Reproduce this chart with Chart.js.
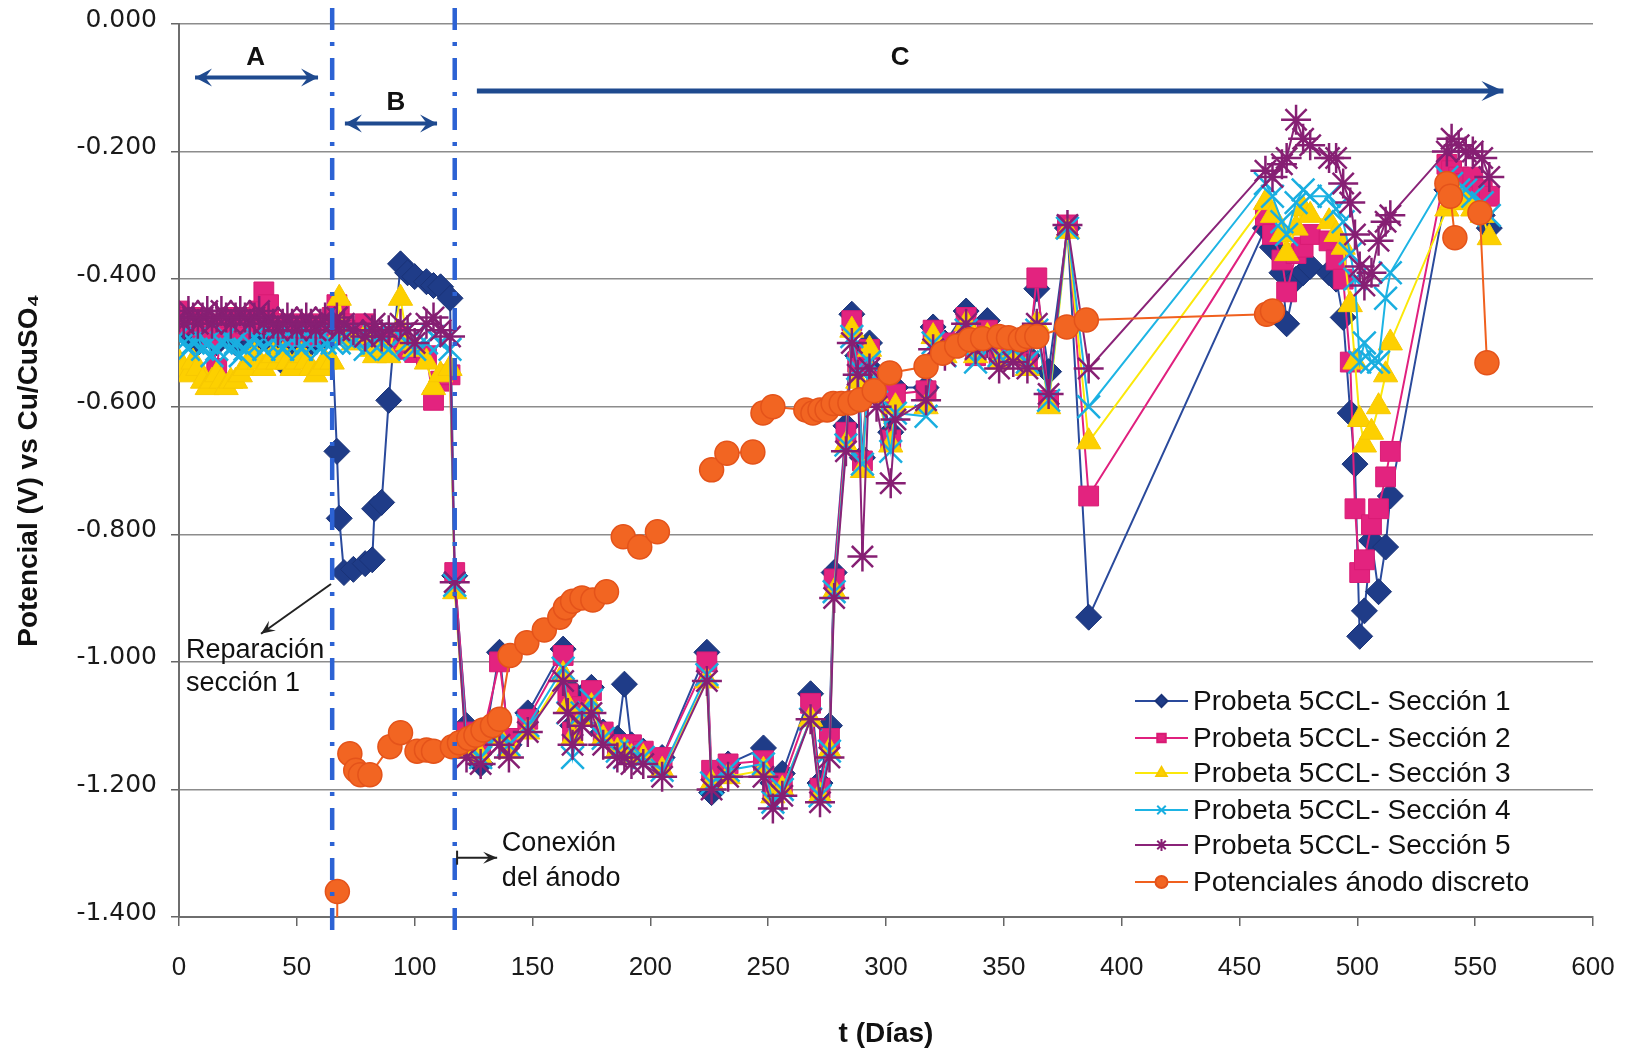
<!DOCTYPE html>
<html lang="es">
<head>
<meta charset="UTF-8">
<title>Potencial vs tiempo - Probeta 5CCL</title>
<style>
    html, body { margin: 0; padding: 0; background: #fff; }
    #caja { width: 1636px; height: 1054px; }
</style>
</head>
<body>
<div id="caja"><canvas id="grafico" width="1636" height="1054"></canvas></div>

<script src="https://cdn.jsdelivr.net/npm/chart.js"></script>
<script>
// dias de medicion de las secciones (fase A, fase B, fase C)
var dias = [
    0,2,4,6,8,10,12,14,16,18,20,22,24,26,28,30,32,34,36,38,40,42,44,46,48,50,52,54,56,58,60,62,
    65,67,68,70,74,79,82,83,86,89,94,97,100,105,108,111,115,
    117,122,128,136,140,148,163,165,167,171,
    175,180,186,189,192,197,205,224,226,233,
    248,252,256,268,272,276,278,283,285.5,288,
    290,293,296,302,304,317,320,325,334,338,
    343,348,354,360,364,369,377,386,
    461,464,468,470,474,477,480,488,491,494,
    497,499,501,503,506,509,512,514,
    538,540,543,546,549,553,556
];

var seccion1 = [
    -0.47,-0.48,-0.49,-0.48,-0.50,-0.49,-0.48,-0.49,-0.50,-0.49,-0.48,-0.49,-0.50,-0.49,-0.48,-0.49,-0.50,-0.49,-0.48,-0.49,-0.50,-0.51,-0.53,-0.51,-0.50,-0.49,-0.48,-0.49,-0.50,-0.49,-0.48,-0.49,
    -0.49,-0.67,-0.775,-0.86,-0.855,-0.846,-0.84,-0.76,-0.75,-0.59,-0.376,-0.39,-0.396,-0.404,-0.41,-0.412,-0.43,
    -0.865,-1.10,-1.16,-0.985,-1.13,-1.08,-0.98,-1.04,-1.10,-1.06,
    -1.04,-1.11,-1.12,-1.035,-1.13,-1.14,-1.15,-0.985,-1.205,-1.16,
    -1.135,-1.19,-1.175,-1.05,-1.19,-1.10,-0.86,-0.63,-0.455,-0.52,
    -0.68,-0.50,-0.55,-0.64,-0.57,-0.57,-0.475,-0.50,-0.45,-0.50,
    -0.465,-0.51,-0.50,-0.52,-0.415,-0.545,-0.32,-0.93,
    -0.32,-0.35,-0.39,-0.47,-0.40,-0.39,-0.38,-0.39,-0.40,-0.46,
    -0.61,-0.69,-0.96,-0.92,-0.81,-0.89,-0.82,-0.74,
    -0.26,-0.25,-0.27,-0.27,-0.28,-0.30,-0.32
];

var seccion2 = [
    -0.45,-0.46,-0.47,-0.46,-0.47,-0.48,-0.47,-0.49,-0.54,-0.48,-0.47,-0.46,-0.47,-0.48,-0.47,-0.46,-0.47,-0.45,-0.42,-0.44,-0.47,-0.48,-0.47,-0.48,-0.49,-0.48,-0.47,-0.48,-0.49,-0.48,-0.47,-0.48,
    -0.46,-0.44,-0.45,-0.47,-0.48,-0.47,-0.49,-0.50,-0.49,-0.50,-0.49,-0.51,-0.515,-0.52,-0.59,-0.56,-0.55,
    -0.86,-1.11,-1.13,-1.00,-1.12,-1.09,-0.99,-1.05,-1.11,-1.07,
    -1.045,-1.11,-1.13,-1.13,-1.13,-1.14,-1.15,-1.00,-1.17,-1.16,
    -1.155,-1.20,-1.19,-1.065,-1.198,-1.12,-0.87,-0.64,-0.465,-0.53,
    -0.685,-0.51,-0.56,-0.652,-0.58,-0.575,-0.48,-0.50,-0.46,-0.52,
    -0.48,-0.52,-0.51,-0.53,-0.398,-0.59,-0.315,-0.74,
    -0.30,-0.33,-0.37,-0.42,-0.36,-0.35,-0.33,-0.34,-0.37,-0.40,
    -0.53,-0.76,-0.86,-0.84,-0.785,-0.76,-0.71,-0.67,
    -0.22,-0.23,-0.24,-0.25,-0.24,-0.26,-0.27
];

var seccion3 = [
    -0.53,-0.54,-0.55,-0.53,-0.54,-0.56,-0.57,-0.56,-0.55,-0.56,-0.57,-0.56,-0.56,-0.55,-0.54,-0.53,-0.52,-0.53,-0.54,-0.53,-0.52,-0.53,-0.52,-0.53,-0.54,-0.53,-0.52,-0.53,-0.54,-0.55,-0.54,-0.53,
    -0.53,-0.49,-0.43,-0.49,-0.50,-0.49,-0.51,-0.52,-0.51,-0.52,-0.43,-0.50,-0.51,-0.53,-0.57,-0.55,-0.54,
    -0.89,-1.14,-1.15,-1.12,-1.14,-1.11,-1.02,-1.07,-1.12,-1.09,
    -1.07,-1.12,-1.14,-1.14,-1.15,-1.15,-1.17,-1.03,-1.19,-1.18,
    -1.17,-1.21,-1.20,-1.09,-1.21,-1.14,-0.89,-0.66,-0.48,-0.56,
    -0.70,-0.51,-0.58,-0.66,-0.60,-0.60,-0.49,-0.52,-0.47,-0.52,
    -0.49,-0.53,-0.52,-0.54,-0.47,-0.60,-0.325,-0.655,
    -0.28,-0.30,-0.33,-0.36,-0.32,-0.29,-0.30,-0.31,-0.33,-0.35,
    -0.44,-0.53,-0.62,-0.66,-0.64,-0.60,-0.55,-0.50,
    -0.29,-0.28,-0.27,-0.28,-0.29,-0.30,-0.335
];

var seccion4 = [
    -0.49,-0.50,-0.51,-0.50,-0.49,-0.51,-0.50,-0.52,-0.51,-0.50,-0.49,-0.51,-0.50,-0.52,-0.51,-0.50,-0.49,-0.50,-0.51,-0.50,-0.49,-0.50,-0.51,-0.50,-0.49,-0.50,-0.51,-0.50,-0.49,-0.50,-0.51,-0.50,
    -0.50,-0.49,-0.50,-0.49,-0.50,-0.51,-0.50,-0.49,-0.50,-0.51,-0.49,-0.50,-0.51,-0.50,-0.49,-0.50,-0.51,
    -0.88,-1.13,-1.15,-1.11,-1.13,-1.10,-1.01,-1.08,-1.15,-1.08,
    -1.06,-1.12,-1.14,-1.15,-1.14,-1.15,-1.17,-1.02,-1.19,-1.17,
    -1.16,-1.22,-1.20,-1.09,-1.21,-1.14,-0.89,-0.66,-0.49,-0.54,
    -0.69,-0.53,-0.56,-0.67,-0.61,-0.615,-0.50,-0.52,-0.48,-0.53,
    -0.50,-0.52,-0.51,-0.53,-0.48,-0.59,-0.32,-0.60,
    -0.25,-0.27,-0.31,-0.33,-0.28,-0.26,-0.27,-0.27,-0.29,-0.31,
    -0.36,-0.40,-0.53,-0.50,-0.53,-0.53,-0.43,-0.39,
    -0.24,-0.25,-0.26,-0.26,-0.27,-0.28,-0.30
];

var seccion5 = [
    -0.46,-0.47,-0.45,-0.46,-0.47,-0.46,-0.45,-0.47,-0.46,-0.45,-0.46,-0.47,-0.46,-0.45,-0.46,-0.47,-0.46,-0.45,-0.47,-0.46,-0.47,-0.48,-0.47,-0.46,-0.47,-0.48,-0.47,-0.46,-0.47,-0.48,-0.47,-0.46,
    -0.47,-0.46,-0.48,-0.47,-0.48,-0.49,-0.48,-0.47,-0.49,-0.48,-0.47,-0.48,-0.50,-0.47,-0.46,-0.48,-0.49,
    -0.875,-1.15,-1.16,-1.13,-1.15,-1.11,-1.03,-1.08,-1.13,-1.10,
    -1.08,-1.13,-1.15,-1.15,-1.16,-1.16,-1.18,-1.03,-1.20,-1.18,
    -1.18,-1.23,-1.21,-1.09,-1.22,-1.15,-0.90,-0.67,-0.50,-0.55,
    -0.835,-0.54,-0.60,-0.72,-0.62,-0.59,-0.51,-0.52,-0.47,-0.51,
    -0.50,-0.54,-0.53,-0.54,-0.47,-0.58,-0.315,-0.54,
    -0.23,-0.24,-0.22,-0.21,-0.15,-0.18,-0.19,-0.21,-0.21,-0.25,
    -0.28,-0.33,-0.38,-0.41,-0.39,-0.34,-0.31,-0.30,
    -0.20,-0.18,-0.19,-0.20,-0.20,-0.21,-0.24
];

// anodo discreto (null = tramo sin linea)
var diasAnodo = [
    67,67.2,70,72.5,75,77,81,89.5,94,101,105,108,116,119,123,126,129,133,136,
    140.5,147.6,155,161.6,164,167,171,175.6,181.4,185,188.5,195.5,203,215,
    226,232.5,243.5,246,247.8,252,266,269,272,275,277.6,281,284.7,289,295,301.6,
    317,324,330,335.6,341,348,352,357,360,364,376.7,385,461.5,464,500,
    538,539.5,541.4,547,552,555
];
var anodo = [
    -1.47,-1.36,null,-1.144,-1.17,-1.177,-1.177,-1.133,-1.111,-1.14,-1.138,-1.14,-1.133,-1.127,-1.12,-1.115,-1.107,-1.10,-1.09,
    -0.99,-0.97,-0.95,-0.93,-0.915,-0.905,-0.90,-0.903,-0.89,null,-0.804,-0.82,-0.796,null,
    -0.699,-0.673,-0.671,null,-0.61,-0.60,-0.605,-0.61,-0.605,-0.605,-0.595,-0.595,-0.594,-0.589,-0.575,-0.547,
    -0.537,-0.516,-0.505,-0.495,-0.493,-0.49,-0.492,-0.495,-0.49,-0.49,-0.475,-0.464,-0.455,-0.45,null,
    -0.25,-0.27,-0.335,null,-0.296,-0.531
];

var nombres = [
    'Probeta 5CCL- Sección 1',
    'Probeta 5CCL- Sección 2',
    'Probeta 5CCL- Sección 3',
    'Probeta 5CCL- Sección 4',
    'Probeta 5CCL- Sección 5',
    'Potenciales ánodo discreto'
];

var fuente = 'Liberation Sans, Arial, sans-serif';

function puntos(xs, ys) {
    return xs.map(function (d, i) { return {x: d, y: ys[i]}; });
}

// leyenda, lineas de fases, flechas y notas
var notas = {
    id: 'notas',
    afterDraw: function (chart) {
        var ctx = chart.ctx;
        var xs = chart.scales.x, ys = chart.scales.y;
        var area = chart.chartArea;
        var px = function (v) { return xs.getPixelForValue(v); };
        var py = function (v) { return ys.getPixelForValue(v); };

        function flecha(x1, y1, x2, y2, largo, ancho, doble) {
            var ang = Math.atan2(y2 - y1, x2 - x1);
            ctx.beginPath();
            ctx.moveTo(x1, y1);
            ctx.lineTo(x2, y2);
            ctx.stroke();
            var punta = function (x, y, a) {
                ctx.beginPath();
                ctx.moveTo(x, y);
                ctx.lineTo(x - largo * Math.cos(a) + ancho * Math.sin(a), y - largo * Math.sin(a) - ancho * Math.cos(a));
                ctx.lineTo(x - largo * 0.6 * Math.cos(a), y - largo * 0.6 * Math.sin(a));
                ctx.lineTo(x - largo * Math.cos(a) - ancho * Math.sin(a), y - largo * Math.sin(a) + ancho * Math.cos(a));
                ctx.closePath();
                ctx.fill();
            };
            punta(x2, y2, ang);
            if (doble) punta(x1, y1, ang + Math.PI);
        }

        ctx.save();

        // lineas punto-raya de las fases
        ctx.strokeStyle = '#2c62d4';
        ctx.lineWidth = 4.5;
        ctx.setLineDash([22, 12, 4, 12]);
        [65, 117].forEach(function (d) {
            ctx.beginPath();
            ctx.moveTo(px(d), py(0.025));
            ctx.lineTo(px(d), py(-1.435));
            ctx.stroke();
        });
        ctx.setLineDash([]);

        // flechas A, B, C
        ctx.strokeStyle = '#1f4a8f';
        ctx.fillStyle = '#1f4a8f';
        ctx.lineWidth = 4;
        flecha(px(6.8), py(-0.084), px(59), py(-0.084), 17, 9, true);
        flecha(px(70.4), py(-0.156), px(109.5), py(-0.156), 17, 9, true);
        ctx.lineWidth = 5;
        flecha(px(126.4), py(-0.105), px(562), py(-0.105), 22, 10, false);

        ctx.fillStyle = '#111';
        ctx.font = 'bold 26px ' + fuente;
        ctx.textAlign = 'center';
        ctx.textBaseline = 'middle';
        ctx.fillText('A', px(32.5), py(-0.053));
        ctx.fillText('B', px(92), py(-0.124));
        ctx.fillText('C', px(306), py(-0.053));

        // notas de texto
        ctx.font = '27px ' + fuente;
        ctx.textAlign = 'left';
        ctx.fillText('Reparación', px(3), py(-0.983));
        ctx.fillText('sección 1', px(3), py(-1.034));
        ctx.fillText('Conexión', px(137), py(-1.285));
        ctx.fillText('del ánodo', px(137), py(-1.34));

        ctx.strokeStyle = '#222';
        ctx.fillStyle = '#222';
        ctx.lineWidth = 2;
        flecha(px(64.5), py(-0.878), px(34.8), py(-0.956), 14, 6, false);
        flecha(px(118), py(-1.307), px(135), py(-1.307), 14, 6, false);
        ctx.beginPath();
        ctx.moveTo(px(118), py(-1.296));
        ctx.lineTo(px(118), py(-1.318));
        ctx.stroke();

        // leyenda
        var filas = [216, 179, 144, 107, 72, 35];
        var x0 = area.right - 458;
        chart.data.datasets.forEach(function (ds, i) {
            var y = area.bottom - filas[i];
            ctx.strokeStyle = ds.borderColor;
            ctx.lineWidth = 2;
            ctx.beginPath();
            ctx.moveTo(x0, y);
            ctx.lineTo(x0 + 53, y);
            ctx.stroke();
            ctx.fillStyle = ds.pointBackgroundColor;
            ctx.strokeStyle = ds.pointBorderColor;
            Chart.helpers.drawPoint(ctx, {
                pointStyle: ds.pointStyle, rotation: 0, radius: 6,
                borderWidth: ds.pointBorderWidth
            }, x0 + 26.5, y);
            ctx.fillStyle = '#111';
            ctx.font = '28px ' + fuente;
            ctx.textAlign = 'left';
            ctx.textBaseline = 'middle';
            ctx.fillText(ds.label, x0 + 58, y + 1);
        });

        ctx.restore();
    }
};

var ctx = document.getElementById('grafico').getContext('2d');
var grafico = new Chart(ctx, {
    type: 'line',
    data: {
        datasets: [{
            label: nombres[0],
            data: puntos(dias, seccion1),
            borderColor: '#2a4a9c',
            borderWidth: 2,
            pointStyle: 'rectRot',
            pointRadius: 13,
            pointBackgroundColor: '#1f3c88',
            pointBorderColor: '#1a3378',
            pointBorderWidth: 1,
            order: 6
        }, {
            label: nombres[1],
            data: puntos(dias, seccion2),
            borderColor: '#e0207e',
            borderWidth: 2,
            pointStyle: 'rect',
            pointRadius: 14,
            pointBackgroundColor: '#e3237f',
            pointBorderColor: '#d81b74',
            pointBorderWidth: 1,
            order: 5
        }, {
            label: nombres[2],
            data: puntos(dias, seccion3),
            borderColor: '#fbe80a',
            borderWidth: 2,
            pointStyle: 'triangle',
            pointRadius: 14,
            pointBackgroundColor: '#fdd000',
            pointBorderColor: '#f7c800',
            pointBorderWidth: 1,
            order: 4
        }, {
            label: nombres[3],
            data: puntos(dias, seccion4),
            borderColor: '#1db4e4',
            borderWidth: 2,
            pointStyle: 'crossRot',
            pointRadius: 16,
            pointBackgroundColor: '#1db4e4',
            pointBorderColor: '#19aee0',
            pointBorderWidth: 2.5,
            order: 3
        }, {
            label: nombres[4],
            data: puntos(dias, seccion5),
            borderColor: '#8a2378',
            borderWidth: 2,
            pointStyle: 'star',
            pointRadius: 15,
            pointBackgroundColor: '#8a2378',
            pointBorderColor: '#861f73',
            pointBorderWidth: 2.5,
            order: 2
        }, {
            label: nombres[5],
            data: puntos(diasAnodo, anodo),
            borderColor: '#f0601e',
            borderWidth: 2,
            pointStyle: 'circle',
            pointRadius: 12,
            pointBackgroundColor: '#f26522',
            pointBorderColor: '#e4531a',
            pointBorderWidth: 1.5,
            spanGaps: false,
            clip: 0,
            order: 1
        }]
    },
    options: {
        responsive: false,
        animation: false,
        devicePixelRatio: 1,
        layout: { padding: { left: 0, right: 43, top: 24, bottom: 0 } },
        plugins: {
            legend: { display: false },
            tooltip: { enabled: false }
        },
        scales: {
            x: {
                type: 'linear',
                min: 0,
                max: 600,
                ticks: {
                    stepSize: 50,
                    color: '#1a1a1a',
                    padding: 26,
                    font: { family: fuente, size: 26 }
                },
                grid: { drawOnChartArea: false, color: '#666', tickLength: 9, lineWidth: 1.5 },
                border: { color: '#6e6e6e', width: 2 },
                title: {
                    display: true,
                    text: 't (Días)',
                    color: '#111',
                    font: { family: fuente, size: 28, weight: 'bold' },
                    padding: { top: 0, bottom: 3 }
                },
                afterFit: function (s) {
                    s.height = 137;
                    s.paddingLeft = 0;
                    s.paddingRight = 0;
                }
            },
            y: {
                min: -1.4,
                max: 0,
                ticks: {
                    stepSize: 0.2,
                    color: '#1a1a1a',
                    padding: 14,
                    labelOffset: -4,
                    font: { family: 'DejaVu Sans, sans-serif', size: 25 },
                    callback: function (v) {
                        var r = Math.round(v * 1000) / 1000;
                        if (r === 0) r = 0;
                        return r.toFixed(3);
                    }
                },
                grid: { color: '#8c8c8c', lineWidth: 1.5, tickLength: 8, tickColor: '#666' },
                border: { color: '#6e6e6e', width: 2 },
                title: {
                    display: true,
                    text: 'Potencial (V) vs Cu/CuSO\u2084',
                    color: '#111',
                    font: { family: fuente, size: 28, weight: 'bold' },
                    padding: { top: 12, bottom: 0 }
                },
                afterFit: function (s) {
                    s.width = 179;
                    s.paddingTop = 0;
                    s.paddingBottom = 0;
                }
            }
        }
    },
    plugins: [notas]
});
</script>
</body>
</html>
